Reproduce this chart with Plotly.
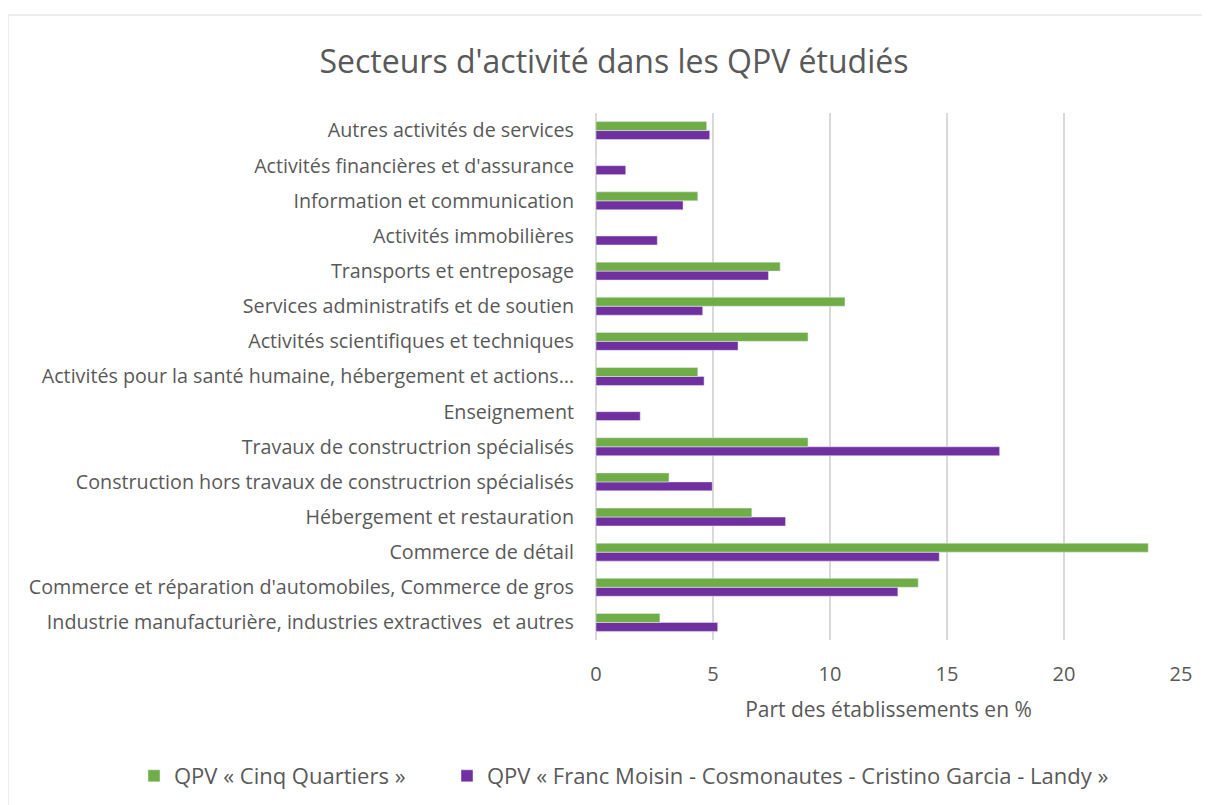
import plotly.graph_objects as go

# Categories listed bottom -> top (plotly draws first category at the bottom)
secteurs = ["Industrie manufacturière, industries extractives  et autres",
            "Commerce et réparation d'automobiles, Commerce de gros",
            "Commerce de détail",
            "Hébergement et restauration",
            "Construction hors travaux de constructrion spécialisés",
            "Travaux de constructrion spécialisés",
            "Enseignement",
            "Activités pour la santé humaine, hébergement et actions…",
            "Activités scientifiques et techniques",
            "Services administratifs et de soutien",
            "Transports et entreposage",
            "Activités immobilières",
            "Information et communication",
            "Activités financières et d'assurance",
            "Autres activités de services"]

cinq_quartiers = [2.73, 13.77, 23.6, 6.66, 3.12, 9.06, 0, 4.35, 9.06, 10.64, 7.87, 0, 4.35, 0, 4.73]
franc_moisin = [5.2, 12.9, 14.67, 8.1, 4.97, 17.25, 1.89, 4.62, 6.07, 4.56, 7.37, 2.62, 3.72, 1.27, 4.86]

nom_cinq = "QPV « Cinq Quartiers »"
nom_franc = "QPV « Franc Moisin - Cosmonautes - Cristino Garcia - Landy »"

# the page body has an 8px margin, so the figure is a bit smaller than the window
W, H = 1202, 797
ml, mr, mt, mb = 588, 29, 105, 165
pw, ph = W - ml - mr, H - mt - mb

texte = "#595959"
police = "Open Sans"

fig = go.Figure()
fig.add_trace(go.Bar(name=nom_franc, y=secteurs, x=franc_moisin, orientation="h",
                     marker=dict(color="#7030A0"), legend="legend2"))
fig.add_trace(go.Bar(name=nom_cinq, y=secteurs, x=cinq_quartiers, orientation="h",
                     marker=dict(color="#70AD47"), legend="legend"))

# chart frame (light grey border)
fig.add_shape(type="rect", xref="paper", yref="paper",
              x0=(0 - ml) / pw, x1=(1198 - ml) / pw,
              y0=(H - mb - 820) / ph, y1=(H - mb - 7) / ph,
              line=dict(color="#d9d9d9", width=1), layer="below")

# two one-item legends side by side (a single one would wrap onto two rows)
leg = dict(orientation="h", xref="container", xanchor="left",
           y=1 - 768 / H, yref="container", yanchor="middle",
           font=dict(size=22, color=texte))

fig.update_layout(
    width=W, height=H,
    margin=dict(l=ml, r=mr, t=mt, b=mb, autoexpand=False),
    paper_bgcolor="white", plot_bgcolor="white",
    font=dict(family=police, color=texte, size=19),
    title=dict(text="Secteurs d'activité dans les QPV étudiés",
               font=dict(size=32, color=texte),
               x=(614 - 8) / W, xref="container", xanchor="center",
               y=1 - 54 / H, yref="container", yanchor="middle"),
    barmode="group", bargap=0.49, bargroupgap=0,
    showlegend=True,
    legend=dict(leg, x=126 / W),
    legend2=dict(leg, x=439 / W),
    xaxis=dict(range=[0, 25], dtick=5, showgrid=True, gridcolor="#d9d9d9", gridwidth=1.5,
               zeroline=True, zerolinecolor="#d9d9d9", zerolinewidth=1.5,
               tickfont=dict(size=20, color=texte), ticklabelstandoff=20,
               title=dict(text="Part des établissements en %", font=dict(size=21, color=texte),
                          standoff=16),
               fixedrange=True),
    yaxis=dict(showgrid=False, zeroline=False, tickfont=dict(size=19.7, color=texte),
               ticklabelstandoff=21, fixedrange=True),
)

fig.write_html("out.html")
